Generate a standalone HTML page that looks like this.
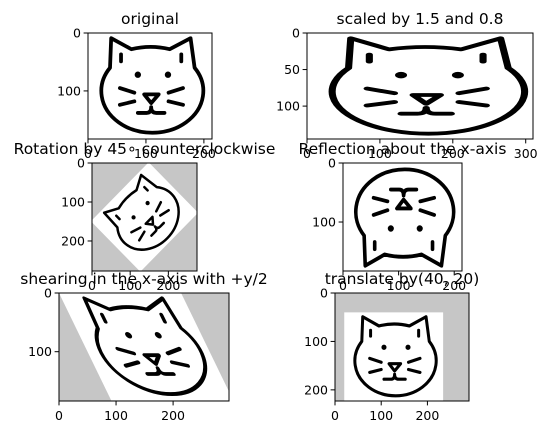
<!DOCTYPE html>
<html><head><meta charset="utf-8"><style>
html,body{margin:0;padding:0;background:#fff;}
svg{display:block;font-family:"DejaVu Sans","Liberation Sans",sans-serif;}
</style></head><body>
<svg id="fig" width="547" height="435" viewBox="0 0 547 435" xmlns="http://www.w3.org/2000/svg">
<defs>
<g id="cat" fill="none" stroke="#000" stroke-width="6.5" stroke-linecap="round" stroke-linejoin="round">
  <path d="M40,9 L38,60 A88,72 0 1 0 184,60 L177,9 L141,28 Q108,20 75,28 Z"/>
  <path d="M57,37 L57,49 M161,37 L161,49"/>
  <circle cx="86" cy="72" r="4" fill="#000" stroke-width="3"/>
  <circle cx="138" cy="72" r="4" fill="#000" stroke-width="3"/>
  <path d="M97,106 L122,106 L109,121 Z"/>
  <path d="M55,95 L80,103 M55,124 L80,118 M164,95 L139,103 M164,124 L139,118"/>
  <path d="M86,138 L101,138 Q109,138 109,128 Q109,138 118,138 L132,138"/>
</g>
</defs>
</svg>
<script>
const NS="http://www.w3.org/2000/svg";
const svg=document.getElementById('fig');
const titles=["original","scaled by 1.5 and 0.8","Rotation by 45\u2218 counterclockwise","Reflection about the x-axis","shearing in the x-axis with +y/2","translate by(40, 20)"];
const xTicks=[[0,100,200],[0,100,200,300],[0,100,200],[0,100,200],[0,100,200],[0,100,200]];
const yTicks=[[0,100],[0,50,100],[0,100,200],[0,100],[0,100],[0,100,200]];
const imgW=[214,310,275,214,298,290];
const imgH=[183,145,277,183,184,223];
const boxes=[[88,33,124,106],[307,33,226,106],[92,163,105,108],[343,163,119,108],[59,293,170,108],[335,293,134,108]];
function el(tag,attrs,parent){const e=document.createElementNS(NS,tag);for(const k in attrs)e.setAttribute(k,attrs[k]);(parent||svg).appendChild(e);return e;}
const catTf=[
 ()=>'',
 ()=>'scale(1.5,0.8)',
 ()=>'translate(137.5,138.5) rotate(-45) translate(-107,-91.5)',
 ()=>'translate(0,183) scale(1,-1)',
 ()=>'matrix(1,0,0.5,1,0,0)',
 ()=>'translate(20,40)'
];
const bgGray=[false,false,true,false,true,true];
for(let i=0;i<6;i++){
  const [bx,by,bw,bh]=boxes[i];
  const sx=bw/imgW[i], sy=bh/imgH[i];
  const xs=v=>bx+v*sx, ys=v=>by+v*sy;
  const g=el('g',{});
  
  
  const cid='clip'+i;
  const cp=el('clipPath',{id:cid},g);el('rect',{x:bx,y:by,width:bw,height:bh},cp);
  const img=el('g',{'clip-path':'url(#'+cid+')'},g);
  
  
  el('rect',{x:bx,y:by,width:bw,height:bh,fill:bgGray[i]?'#c6c6c6':'#fff'},img);
  const inner=el('g',{transform:`translate(${bx},${by}) scale(${sx},${sy}) ${catTf[i]()}`},img);
  el('rect',{x:0,y:0,width:214,height:183,fill:'#fff'},inner);
  el('use',{href:'#cat'},inner);
  const fr=el('rect',{x:bx,y:by,width:bw,height:bh,fill:'none',stroke:'#000','stroke-width':1},g);
  
  
  xTicks[i].forEach(t=>{
    const x=xs(t);
    el('line',{x1:x,y1:by+bh,x2:x,y2:by+bh+4.4,stroke:'#000','stroke-width':1},g);
    const tx=el('text',{x:x,y:by+bh+19,'font-size':12.5,'text-anchor':'middle',fill:'#000'},g);
    tx.textContent=t;
    
    
  });
  yTicks[i].forEach(t=>{
    const y=ys(t);
    el('line',{x1:bx-4.4,y1:y,x2:bx,y2:y,stroke:'#000','stroke-width':1},g);
    const ty=el('text',{x:bx-7,y:y+4.5,'font-size':12.5,'text-anchor':'end',fill:'#000'},g);
    ty.textContent=t;
    
    
  });
}
for(let i=0;i<6;i++){
  const [bx,by,bw]=boxes[i];
  const tt=el('text',{x:bx+bw/2,y:by-9,'font-size':15.5,'text-anchor':'middle',fill:'#000'});
  tt.textContent=titles[i];
  
  
}
</script>
</body></html>
